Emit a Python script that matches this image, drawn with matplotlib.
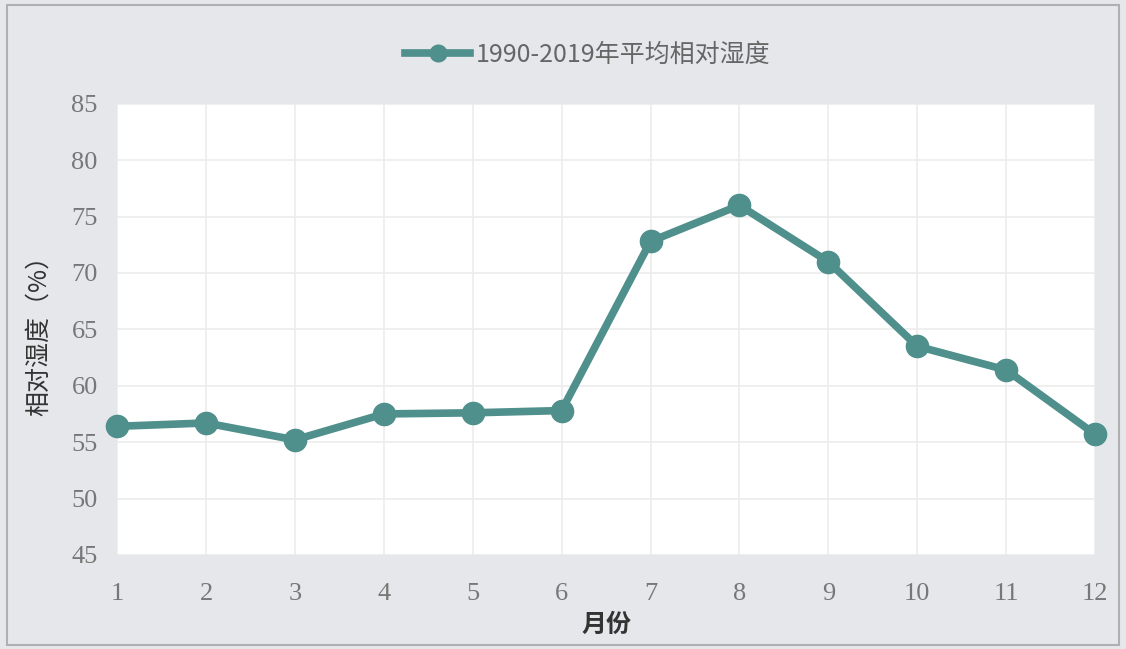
import matplotlib.pyplot as plt
from matplotlib.patches import Rectangle

plt.rcParams['font.family'] = ['Noto Sans CJK SC', 'DejaVu Sans']

months = [1, 2, 3, 4, 5, 6, 7, 8, 9, 10, 11, 12]
humidity = [56.4, 56.7, 55.2, 57.5, 57.6, 57.8, 72.8, 76.0, 71.0, 63.5, 61.4, 55.7]
yticks = [45, 50, 55, 60, 65, 70, 75, 80, 85]

line_color = '#4f8f8c'
bg = '#e6e7eb'

fig = plt.figure(figsize=(11.26, 6.49), dpi=100, facecolor=bg)
ax = fig.add_axes([0.104, 0.145, 0.8685, 0.695])
ax.set_facecolor('white')

ax.plot(months, humidity, color=line_color, lw=5.5, marker='o', ms=16,
        clip_on=False, zorder=3, label='1990-2019年平均相对湿度')

ax.set_xlim(1, 12)
ax.set_ylim(45, 85)
ax.set_xticks(months)
ax.set_yticks(yticks)
ax.grid(True, color='#ececec', lw=1.2)
ax.set_axisbelow(True)
for s in ax.spines.values():
    s.set_visible(False)
ax.tick_params(axis='x', length=0, pad=20, labelcolor='#777777', labelsize=19)
ax.tick_params(axis='y', length=0, pad=14, labelcolor='#777777', labelsize=19)
for t in ax.get_xticklabels() + ax.get_yticklabels():
    t.set_family('Liberation Serif')

ax.set_xlabel('月份', fontsize=18, color='#333333', labelpad=6, fontweight='bold')
ax.set_ylabel('相对湿度（%）', fontsize=18, color='#333333', labelpad=14)

leg = fig.legend(loc='center', bbox_to_anchor=(0.522, 0.915), frameon=False,
                 fontsize=18, handlelength=2.6, handletextpad=0.2, markerscale=0.75)
for t in leg.get_texts():
    t.set_color('#666666')

fig.patches.append(Rectangle((0.006, 0.006), 0.988, 0.986, transform=fig.transFigure,
                             fill=False, edgecolor='#b0b0b0', lw=1.5))

plt.savefig('out.png', dpi=100, facecolor=bg)
